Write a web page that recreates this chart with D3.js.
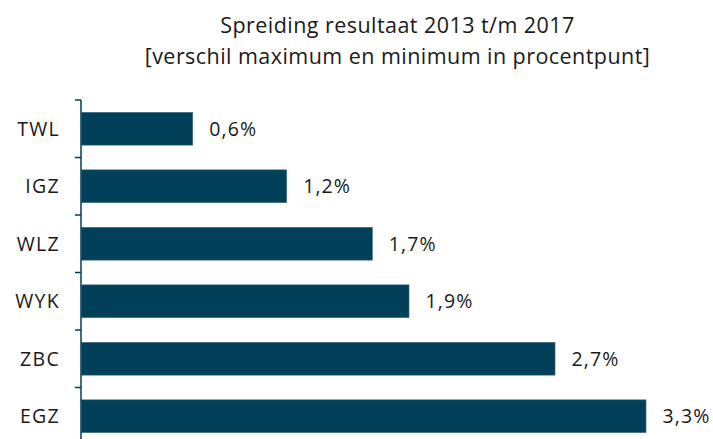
<!DOCTYPE html>
<html>
<head>
<meta charset="utf-8">
<script src="https://cdn.jsdelivr.net/npm/d3@7"></script>
<style>
  html, body { margin: 0; padding: 0; background: #fff; }
  svg { display: block; }
  text { font-family: "Open Sans", "Lato", sans-serif; fill: #1a1a1a; }
</style>
</head>
<body>
<svg id="chart" width="713" height="439"></svg>
<script>
const categories = ["TWL", "IGZ", "WLZ", "WYK", "ZBC", "EGZ"];
const values = [0.646, 1.189, 1.684, 1.896, 2.740, 3.266];
const valueLabels = ["0,6%", "1,2%", "1,7%", "1,9%", "2,7%", "3,3%"];
const titleLines = ["Spreiding resultaat 2013 t/m 2017", "[verschil maximum en minimum in procentpunt]"];

const svg = d3.select("#chart");
const color = "#023f59";

const x = d3.scaleLinear().domain([0, 3.5]).range([81, 81 + 3.5 * 173]);
const y = d3.scaleBand().domain(categories).range([100, 445]).paddingInner(0.43).paddingOuter(0.215);

// title
svg.append("g").selectAll("text").data(titleLines).join("text")
  .attr("x", 397.5).attr("y", (d, i) => 33 + i * 31)
  .attr("text-anchor", "middle")
  .style("font-size", "21.5px")
  .style("letter-spacing", "0.45px")
  .text(d => d);

// bars
svg.append("g").selectAll("rect").data(categories).join("rect")
  .attr("x", x(0) + 0.5)
  .attr("y", d => y(d))
  .attr("width", (d, i) => x(values[i]) - x(0) - 0.5)
  .attr("height", y.bandwidth())
  .attr("fill", color)
  .attr("stroke", "#3d6a80").attr("stroke-width", 0.6);

// value labels
svg.append("g").selectAll("text").data(categories).join("text")
  .attr("x", (d, i) => x(values[i]) + 16.5)
  .attr("y", d => y(d) + y.bandwidth() / 2)
  .attr("dy", "0.36em")
  .style("font-size", "19.5px")
  .style("letter-spacing", "1.1px")
  .text((d, i) => valueLabels[i]);

// y axis
const axisG = svg.append("g").attr("transform", `translate(${x(0)},0)`);
const yStep = y.step();
axisG.append("line").attr("x1", 0).attr("x2", 0).attr("y1", 100).attr("y2", 445)
  .attr("stroke", color).attr("stroke-width", 1.5);
const boundaries = categories.map(c => y(c) - y.paddingInner() * yStep / 2);
axisG.selectAll("line.tick").data(boundaries).join("line").attr("class", "tick")
  .attr("x1", -6).attr("x2", 0).attr("y1", d => d).attr("y2", d => d)
  .attr("stroke", color).attr("stroke-width", 1.5);
axisG.selectAll("text").data(categories).join("text")
  .attr("x", -21)
  .attr("y", d => y(d) + y.bandwidth() / 2)
  .attr("dy", "0.36em")
  .attr("text-anchor", "end")
  .style("font-size", "19.5px")
  .style("letter-spacing", "1.3px")
  .text(d => d);
</script>
</body>
</html>
